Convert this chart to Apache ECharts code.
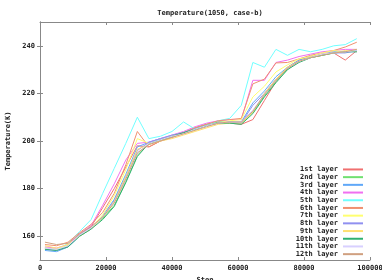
<!DOCTYPE html>
<html>
<head>
<meta charset="utf-8">
<script src="https://cdn.jsdelivr.net/npm/echarts@6/dist/echarts.min.js"></script>
<style>
  html, body { margin: 0; padding: 0; background: #fff; }
  #main { width: 382px; height: 280px; }
</style>
</head>
<body>
<div id="main"></div>
<script>
var steps = [1500, 5000, 8500, 12000, 15500, 19000, 22500, 26000, 29500, 33000, 36500, 40000, 43500, 47000,
             50500, 54000, 57500, 61000, 64500, 68000, 71500, 75000, 78500, 82000, 85500, 89000, 92500, 96000];

var layerNames = ['1st layer', '2nd layer', '3rd layer', '4th layer', '5th layer', '6th layer',
                  '7th layer', '8th layer', '9th layer', '10th layer', '11th layer', '12th layer'];

var layer1  = [155, 154.5, 156, 161, 164, 172, 180, 189, 198, 197.5, 200, 201.5, 203.5, 205.5, 207, 208, 207.5, 207, 209, 217, 225, 231, 234, 235.5, 236.5, 237, 234, 238];
var layer2  = [155, 154.5, 156, 160.5, 163.5, 167.5, 173, 183, 194, 199, 200.5, 202, 203.5, 205.5, 207, 208, 208, 207.5, 212, 219, 225, 230, 233.5, 235, 236, 237, 237.5, 238];
var layer3  = [154, 153.5, 155.5, 160, 163, 168.5, 175.5, 186, 197.5, 199.5, 201, 202, 203.5, 205, 206.5, 207.5, 208, 208, 216, 221, 227, 231, 234, 235.5, 236.5, 237.5, 237.5, 237.5];
var layer4  = [155.5, 155, 156.5, 161, 164.5, 173, 182, 192, 199, 199.5, 201, 202.5, 204, 206, 207.5, 208.5, 209, 209, 225.5, 225.5, 233, 234, 235.5, 236.5, 237.5, 238, 238.5, 238.5];
var layer5  = [155, 154, 157, 162, 167, 178, 188.5, 199, 210, 201, 202, 204, 208, 205, 206.5, 208.5, 209.5, 215, 233, 231, 238.5, 236, 238.5, 237.5, 238.5, 240, 240.5, 243];
var layer6  = [156.5, 156, 157.5, 161.5, 165, 170, 178, 190, 204, 197.5, 200, 202, 203.5, 205.5, 207, 208.5, 209, 209.5, 224, 226, 232.8, 233, 234.5, 236, 237, 238, 239.5, 241.5];
var layer7  = [155, 154.5, 156.5, 160, 163.5, 169, 177, 188, 201, 199, 200.5, 202, 203, 204.5, 206.5, 207.5, 208.5, 209, 218.5, 223, 229, 232, 234.5, 235.5, 237, 238, 237.5, 238.5];
var layer8  = [154.5, 154, 155.5, 160.5, 163.5, 168, 175, 185, 196, 199.5, 201, 202.5, 203.5, 205, 206.5, 207.5, 208, 207.5, 215, 220, 226, 230.5, 233.5, 235, 236.5, 237, 237, 238];
var layer9  = [156, 155, 156.5, 160, 163, 168, 174.5, 185, 196.5, 198.5, 200, 201, 202.5, 204, 205.5, 207, 207.5, 207.5, 212, 220, 226, 231, 233.5, 235, 236.5, 237, 238, 237.5];
var layer10 = [154.5, 154, 155.5, 160, 163, 167, 172.5, 182.5, 193.5, 199, 200.5, 202, 203.5, 205, 206.5, 207.5, 207.5, 207, 211.5, 218.5, 224.5, 230, 233, 235, 236, 237, 237.5, 237.5];
var layer11 = [155, 154.5, 156, 160.5, 163.5, 168, 174, 184, 195, 199, 200.5, 202, 203, 205, 206.5, 207.5, 208, 208, 213, 219.5, 225.5, 230.5, 233.5, 235, 236.5, 237, 237.5, 238];
var layer12 = [157.5, 156.5, 157, 161, 164, 168, 174, 184, 195, 198.5, 200, 201.5, 203, 204.5, 206, 207.5, 208, 208, 212.5, 219.5, 225.5, 230.5, 233.5, 235, 236, 237, 237.5, 238.5];

var layers = [layer1, layer2, layer3, layer4, layer5, layer6, layer7, layer8, layer9, layer10, layer11, layer12];

var yTicks = [160, 180, 200, 220, 240];

var colors = ['#f07070', '#70e070', '#60a8f8', '#f070f0', '#70ffff', '#f09070',
              '#ffff70', '#9090f0', '#ffe070', '#30b070', '#d8d0ff', '#d0a080'];

var font = { fontFamily: 'DejaVu Sans Mono', fontSize: 7, fontWeight: 'bold', color: '#222' };

var myChart = echarts.init(document.getElementById('main'));

var series = layers.map(function (vals, i) {
    return {
        name: layerNames[i],
        type: 'line',
        data: steps.map(function (s, j) { return [s, vals[j]]; }),
        showSymbol: false,
        symbol: 'none',
        lineStyle: { width: 1, color: colors[i] },
        itemStyle: { color: colors[i] },
        animation: false
    };
});

var frameLine = { show: true, lineStyle: { color: '#888', width: 1 } };

var option = {
    animation: false,
    color: colors,
    title: {
        text: 'Temperature(1050, case-b)',
        left: 205,
        textAlign: 'center',
        top: 5,
        textStyle: font
    },
    legend: {
        orient: 'vertical',
        right: 14,
        bottom: 17,
        align: 'right',
        itemWidth: 20,
        itemHeight: 2,
        itemGap: 0,
        icon: 'rect',
        data: layerNames,
        textStyle: { fontFamily: font.fontFamily, fontSize: 7, fontWeight: 'bold', color: '#222', lineHeight: 7.7 }
    },
    grid: { left: 40, right: 12, top: 22, bottom: 20, outerBoundsMode: 'none', containLabel: false },
    xAxis: [{
        type: 'value',
        min: 0, max: 100000, interval: 20000,
        name: 'Step',
        nameLocation: 'middle',
        nameGap: 16,
        nameTextStyle: font,
        axisLine: frameLine,
        axisTick: { inside: true, length: 3, lineStyle: { color: '#888' } },
        axisLabel: {
            margin: 5, fontFamily: font.fontFamily, fontSize: 7, fontWeight: 'bold', color: '#222',
            formatter: function (v) { return String(v); }
        },
        splitLine: { show: false }
    }, {
        type: 'value',
        position: 'top',
        min: 0, max: 100000, interval: 20000,
        axisLine: frameLine,
        axisTick: { inside: true, length: 3, lineStyle: { color: '#888' } },
        axisLabel: { show: false },
        splitLine: { show: false }
    }],
    yAxis: [{
        type: 'value',
        min: 150, max: 250,
        name: 'Temperature(K)',
        nameLocation: 'middle',
        nameGap: 28,
        nameTextStyle: font,
        axisLine: frameLine,
        axisTick: { inside: true, length: 3, customValues: yTicks, lineStyle: { color: '#888' } },
        axisLabel: { margin: 5, customValues: yTicks, fontFamily: font.fontFamily, fontSize: 7, fontWeight: 'bold', color: '#222' },
        splitLine: { show: false }
    }, {
        type: 'value',
        position: 'right',
        min: 150, max: 250,
        axisLine: frameLine,
        axisTick: { inside: true, length: 3, customValues: yTicks, lineStyle: { color: '#888' } },
        axisLabel: { show: false },
        splitLine: { show: false }
    }],
    series: series
};

myChart.setOption(option);
</script>
</body>
</html>
